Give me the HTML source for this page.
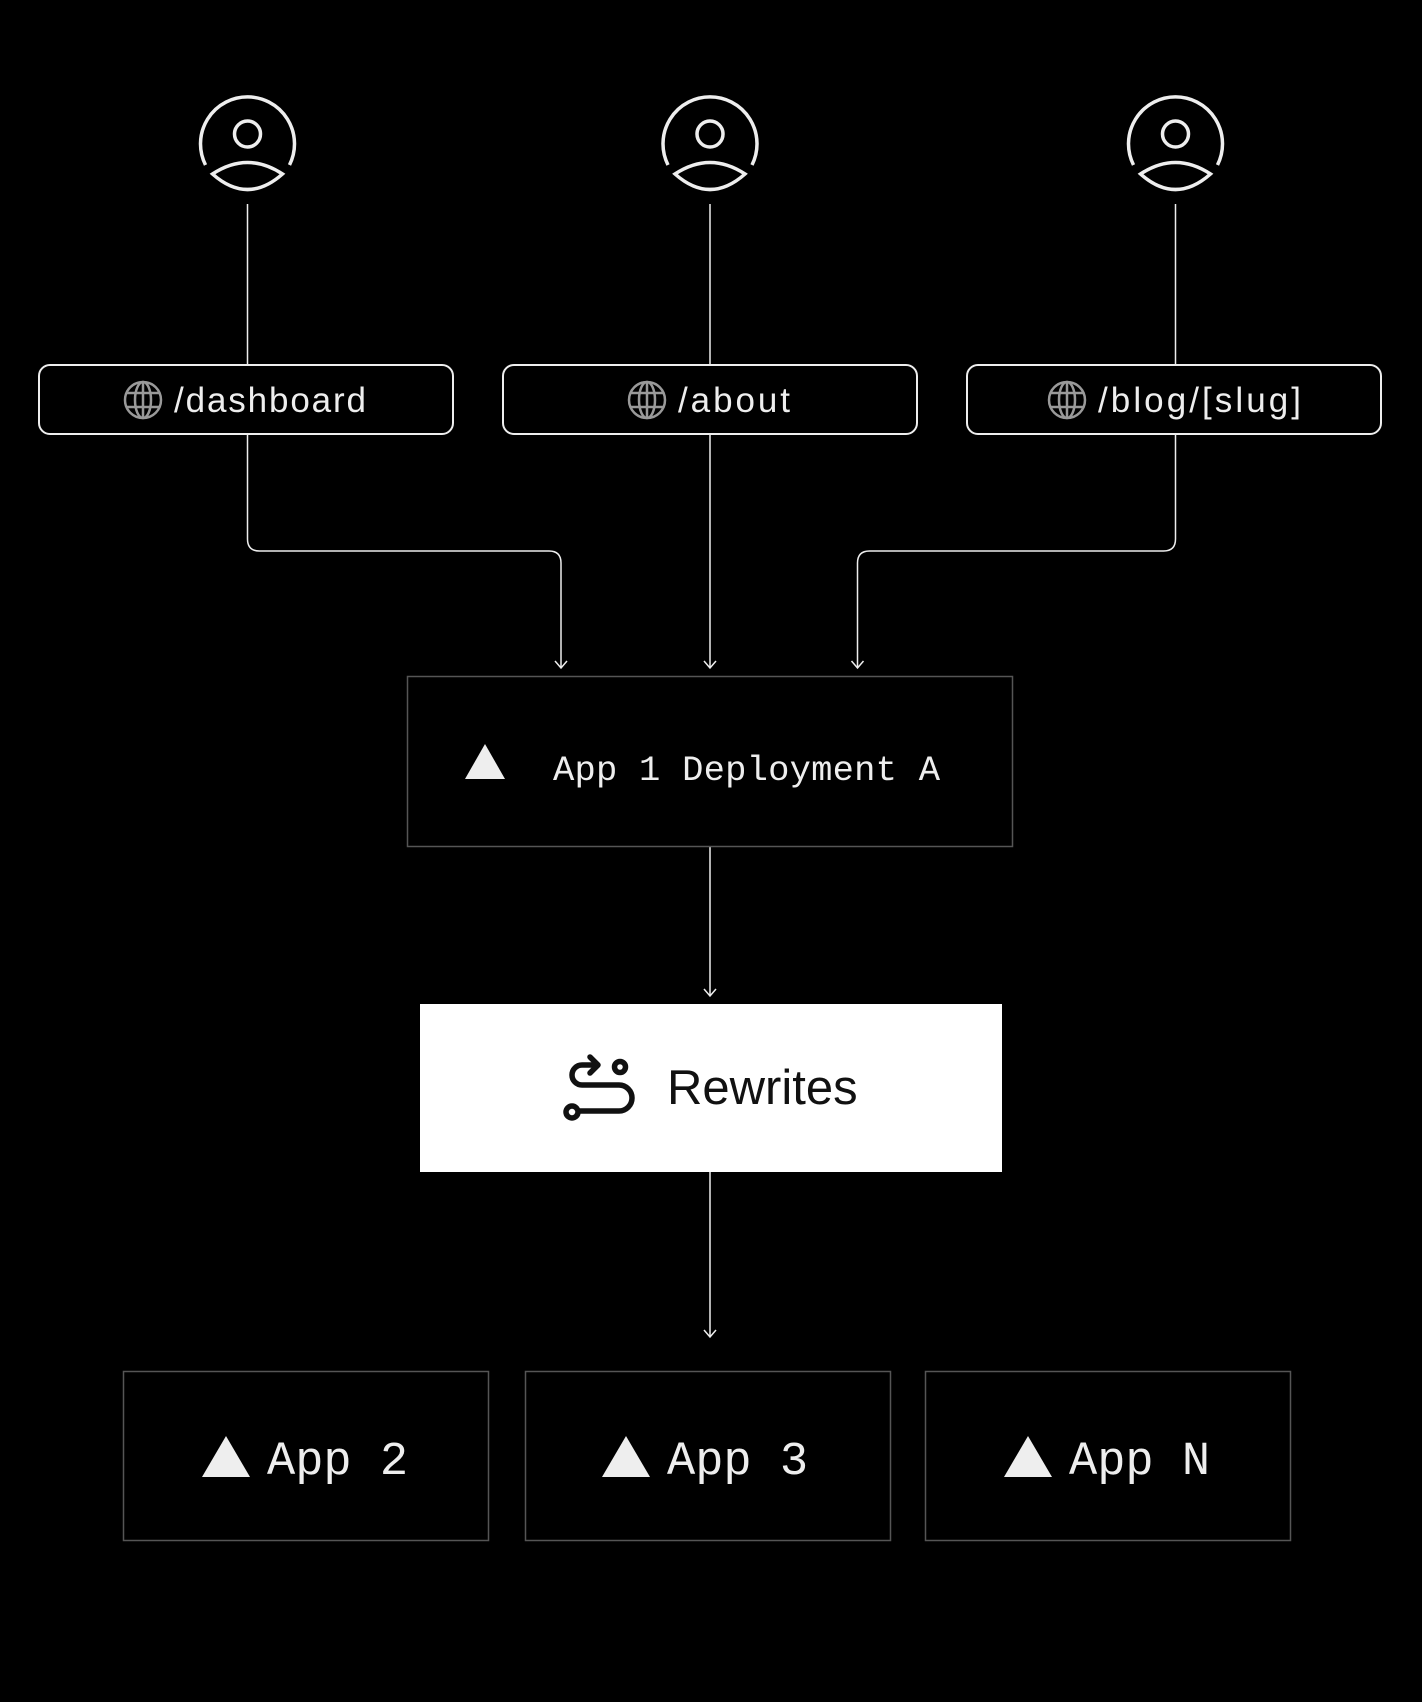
<!DOCTYPE html>
<html><head><meta charset="utf-8"><style>
html,body{margin:0;padding:0;background:#000;width:1422px;height:1702px;overflow:hidden}
</style></head><body>
<svg width="1422" height="1702" viewBox="0 0 1422 1702" xmlns="http://www.w3.org/2000/svg">
<rect width="1422" height="1702" fill="#000"/>
<defs>
<g id="user" fill="none" stroke="#eee" stroke-width="3.5">
<path d="M-42,22 A47,47 0 1 1 42,22"/>
<circle cx="0" cy="-9" r="13"/>
<path d="M-35,31 Q0,8 35,31 Q0,62 -35,31 Z"/>
</g>
<g id="globe" fill="none" stroke="#999" stroke-width="2.5">
<circle r="18"/><ellipse rx="8" ry="18"/>
<line x1="-16" y1="-7" x2="16" y2="-7"/><line x1="-16" y1="7" x2="16" y2="7"/><line x1="0" y1="-18" x2="0" y2="18"/>
</g>
<g id="arr" fill="none" stroke="#eee" stroke-width="1.5"><path d="M-6,-7 L0,0 L6,-7"/></g>
</defs>
<use href="#user" x="247.5" y="143"/>
<use href="#user" x="710" y="143"/>
<use href="#user" x="1175.5" y="143"/>
<g stroke="#eee" stroke-width="1.5" fill="none">
<line x1="247.5" y1="204" x2="247.5" y2="365"/>
<line x1="710" y1="204" x2="710" y2="365"/>
<line x1="1175.5" y1="204" x2="1175.5" y2="365"/>
<path d="M247.5,434 V539 Q247.5,551 259.5,551 H549 Q561,551 561,563 V668"/>
<line x1="710" y1="434" x2="710" y2="668"/>
<path d="M1175.5,434 V539 Q1175.5,551 1163.5,551 H869.5 Q857.5,551 857.5,563 V668"/>
<line x1="710" y1="847" x2="710" y2="996"/>
<line x1="710" y1="1172" x2="710" y2="1337"/>
</g>
<use href="#arr" x="561" y="668"/><use href="#arr" x="710" y="668"/><use href="#arr" x="857.5" y="668"/>
<use href="#arr" x="710" y="996"/><use href="#arr" x="710" y="1337"/>
<g fill="#000" stroke="#eee" stroke-width="2">
<rect x="39" y="365" width="414" height="69" rx="11"/>
<rect x="503" y="365" width="414" height="69" rx="11"/>
<rect x="967" y="365" width="414" height="69" rx="11"/>
</g>
<use href="#globe" x="143" y="400"/>
<use href="#globe" x="647" y="400"/>
<use href="#globe" x="1067" y="400"/>
<g fill="#eee" font-family="Liberation Sans, sans-serif" font-size="35">
<text x="174" y="412" textLength="192" lengthAdjust="spacing">/dashboard</text>
<text x="678" y="412" textLength="112" lengthAdjust="spacing">/about</text>
<text x="1098" y="412" textLength="203" lengthAdjust="spacing">/blog/[slug]</text>
</g>
<rect x="407.5" y="676.5" width="605" height="170" fill="#000" stroke="#555" stroke-width="1.5"/>
<polygon points="485,744 505,779 465,779" fill="#eee"/>
<text x="553" y="780" fill="#eee" font-family="Liberation Mono, monospace" font-size="35.5" textLength="387" lengthAdjust="spacing">App 1 Deployment A</text>
<rect x="420" y="1004" width="582" height="168" fill="#fff"/>
<g fill="none" stroke="#111" stroke-width="5.5" stroke-linecap="round" stroke-linejoin="round">
<path d="M597,1065 H582 A10,10 0 0 0 582,1085 H619 A13,13 0 0 1 619,1111 H580"/>
<path d="M590,1057 L598,1065 L590,1073"/>
<circle cx="620" cy="1067" r="5.5"/>
<circle cx="572" cy="1112" r="6"/>
</g>
<text x="667" y="1104" fill="#111" font-family="Liberation Sans, sans-serif" font-size="49">Rewrites</text>
<g fill="#000" stroke="#555" stroke-width="1.5">
<rect x="123.5" y="1371.5" width="365" height="169"/>
<rect x="525.5" y="1371.5" width="365" height="169"/>
<rect x="925.5" y="1371.5" width="365" height="169"/>
</g>
<g fill="#eee">
<polygon points="226,1436 250,1477 202,1477"/>
<polygon points="626,1436 650,1477 602,1477"/>
<polygon points="1028,1436 1052,1477 1004,1477"/>
</g>
<g fill="#eee" font-family="Liberation Mono, monospace" font-size="47">
<text x="267" y="1474">App 2</text>
<text x="667" y="1474">App 3</text>
<text x="1069" y="1474">App N</text>
</g>
</svg>
</body></html>
